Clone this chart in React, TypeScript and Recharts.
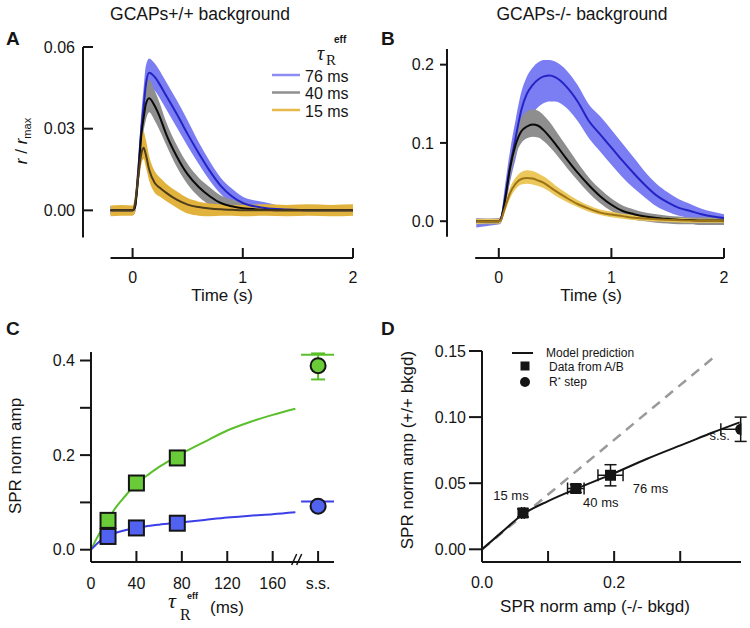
import React from 'react';
import {
  ComposedChart, Area, Line, Scatter, XAxis, YAxis, ReferenceLine, ErrorBar, Legend,
} from 'recharts';

const SANS = '"Liberation Sans", Arial, Helvetica, sans-serif';
const SERIF = '"Liberation Serif", "Times New Roman", serif';
const INK = '#151515';

// ---------- A: GCAPs+/+ background, r/rmax vs time (s)
const T_A = [-0.2, -0.1, 0, 0.02, 0.05, 0.08, 0.1, 0.12, 0.15, 0.2, 0.25, 0.3, 0.4, 0.5, 0.6, 0.7, 0.8, 0.9, 1.0, 1.2, 1.4, 1.6, 1.8, 2.0];
const A_76 = [0, 0, 0, 0.001, 0.014, 0.03, 0.038, 0.046, 0.0505, 0.049, 0.046, 0.0425, 0.0355, 0.028, 0.021, 0.0145, 0.009, 0.0052, 0.0027, 0.0009, 0.0003, 0, 0, 0];
const A_76_LO = [-0.0015, -0.0015, -0.0015, -0.001, 0.01, 0.025, 0.033, 0.041, 0.045, 0.044, 0.041, 0.0375, 0.0305, 0.0235, 0.017, 0.011, 0.006, 0.0025, 0.0005, -0.001, -0.0015, -0.0015, -0.0015, -0.0015];
const A_76_HI = [0.0015, 0.0015, 0.0015, 0.003, 0.018, 0.036, 0.045, 0.053, 0.0558, 0.054, 0.051, 0.0475, 0.0405, 0.033, 0.025, 0.018, 0.012, 0.008, 0.005, 0.003, 0.0015, 0.0015, 0.0015, 0.0015];
const A_40 = [0, 0, 0, 0.001, 0.012, 0.028, 0.034, 0.039, 0.0412, 0.0384, 0.034, 0.0285, 0.0199, 0.0132, 0.0086, 0.0052, 0.0027, 0.0015, 0.0008, 0.0002, 0, 0, 0, 0];
const A_40_LO = [-0.0015, -0.0015, -0.0015, -0.001, 0.008, 0.022, 0.029, 0.033, 0.036, 0.033, 0.029, 0.0245, 0.016, 0.0095, 0.005, 0.002, 0, -0.001, -0.0015, -0.0015, -0.0015, -0.0015, -0.0015, -0.0015];
const A_40_HI = [0.0015, 0.0015, 0.0015, 0.003, 0.016, 0.034, 0.041, 0.0465, 0.048, 0.044, 0.039, 0.033, 0.024, 0.017, 0.012, 0.0085, 0.0055, 0.004, 0.003, 0.0015, 0.0015, 0.0015, 0.0015, 0.0015];
const A_15 = [0, 0, 0, 0.002, 0.012, 0.021, 0.023, 0.0205, 0.015, 0.0101, 0.0082, 0.0066, 0.0039, 0.0021, 0.0012, 0.0007, 0.0004, 0.0002, 0, 0, 0, 0, 0, 0];
const A_15_LO = [-0.0022, -0.002, -0.002, -0.001, 0.008, 0.017, 0.019, 0.016, 0.011, 0.0065, 0.005, 0.0035, 0.001, -0.0012, -0.002, -0.0022, -0.002, -0.002, -0.0022, -0.002, -0.0022, -0.002, -0.0022, -0.002];
const A_15_HI = [0.0018, 0.002, 0.0018, 0.005, 0.018, 0.027, 0.029, 0.026, 0.02, 0.0145, 0.012, 0.01, 0.007, 0.0045, 0.0032, 0.0025, 0.0022, 0.002, 0.002, 0.0022, 0.002, 0.0022, 0.002, 0.0022];

// ---------- B: GCAPs-/- background
const T_B = [-0.2, -0.1, 0, 0.02, 0.05, 0.1, 0.15, 0.2, 0.25, 0.3, 0.35, 0.4, 0.45, 0.5, 0.6, 0.7, 0.8, 0.9, 1.0, 1.1, 1.2, 1.3, 1.4, 1.5, 1.6, 1.7, 1.8, 1.9, 2.0];
const B_76 = [0, 0, 0, 0.003, 0.025, 0.07, 0.107, 0.142, 0.163, 0.174, 0.181, 0.185, 0.186, 0.184, 0.172, 0.153, 0.128, 0.111, 0.094, 0.077, 0.061, 0.046, 0.033, 0.024, 0.017, 0.013, 0.009, 0.006, 0.004];
const B_76_LO = [-0.008, -0.006, -0.004, -0.002, 0.012, 0.05, 0.08, 0.11, 0.128, 0.138, 0.146, 0.151, 0.153, 0.153, 0.145, 0.128, 0.106, 0.089, 0.072, 0.056, 0.042, 0.03, 0.019, 0.012, 0.007, 0.004, 0.001, -0.001, -0.002];
const B_76_HI = [0.004, 0.003, 0.004, 0.008, 0.04, 0.09, 0.13, 0.165, 0.185, 0.196, 0.203, 0.206, 0.206, 0.204, 0.193, 0.174, 0.149, 0.134, 0.117, 0.099, 0.081, 0.063, 0.048, 0.037, 0.028, 0.022, 0.016, 0.012, 0.009];
const B_40 = [0, 0, 0, 0.003, 0.022, 0.068, 0.098, 0.115, 0.121, 0.1235, 0.122, 0.116, 0.108, 0.099, 0.08, 0.062, 0.046, 0.032, 0.021, 0.013, 0.009, 0.006, 0.004, 0.003, 0.002, 0.0015, 0.001, 0.001, 0.001];
const B_40_LO = [-0.004, -0.004, -0.004, -0.002, 0.014, 0.055, 0.085, 0.1, 0.106, 0.108, 0.107, 0.102, 0.095, 0.087, 0.069, 0.052, 0.036, 0.023, 0.013, 0.006, 0.002, 0, -0.002, -0.003, -0.004, -0.004, -0.005, -0.005, -0.005];
const B_40_HI = [0.003, 0.003, 0.003, 0.006, 0.03, 0.08, 0.112, 0.132, 0.14, 0.143, 0.141, 0.135, 0.127, 0.117, 0.096, 0.075, 0.056, 0.041, 0.029, 0.02, 0.015, 0.011, 0.009, 0.007, 0.006, 0.005, 0.005, 0.005, 0.005];
const B_15 = [0, 0, 0, 0.002, 0.015, 0.036, 0.048, 0.054, 0.0553, 0.0545, 0.052, 0.049, 0.044, 0.039, 0.03, 0.022, 0.016, 0.011, 0.0085, 0.0065, 0.0045, 0.0035, 0.0025, 0.0018, 0.0012, 0.0008, 0.0005, 0.0003, 0];
const B_15_LO = [-0.004, -0.003, -0.003, -0.001, 0.01, 0.029, 0.041, 0.047, 0.048, 0.047, 0.045, 0.042, 0.038, 0.033, 0.025, 0.018, 0.012, 0.008, 0.005, 0.003, 0.0015, 0.0005, -0.0005, -0.001, -0.0015, -0.002, -0.002, -0.002, -0.002];
const B_15_HI = [0.003, 0.003, 0.003, 0.005, 0.02, 0.043, 0.056, 0.063, 0.065, 0.064, 0.061, 0.057, 0.052, 0.046, 0.036, 0.027, 0.02, 0.015, 0.012, 0.0095, 0.0075, 0.006, 0.005, 0.0045, 0.004, 0.0035, 0.003, 0.003, 0.003];

const TAU_NAMES = ['76 ms', '40 ms', '15 ms'];

// ---------- C: SPR norm amp vs tau_R eff
const C_TAU = [15, 40, 76];
const C_GREEN = [0.062, 0.141, 0.194];
const C_GREEN_ERR = [0.004, 0.006, 0.012];
const C_BLUE = [0.028, 0.046, 0.056];
const C_BLUE_ERR = [0.003, 0.004, 0.004];
const C_MODEL_TAU = [0, 5, 10, 15, 20, 30, 40, 50, 60, 76, 100, 120, 140, 160, 180];
const C_MODEL_GREEN = [0, 0.024, 0.045, 0.063, 0.083, 0.113, 0.14, 0.158, 0.175, 0.198, 0.228, 0.252, 0.27, 0.285, 0.298];
const C_MODEL_BLUE = [0, 0.012, 0.022, 0.028, 0.034, 0.041, 0.046, 0.05, 0.053, 0.057, 0.063, 0.068, 0.072, 0.075, 0.079];
const C_SS = 200; // slot of the "s.s." column on the tau axis
const C_SS_GREEN = 0.389;
const C_SS_GREEN_ERR = [0.029, 0.026];
const C_SS_BLUE = 0.092;
const C_SS_MODEL_SPAN = [185, 214];
const C_SS_MODEL_GREEN = 0.412;
const C_SS_MODEL_BLUE = 0.102;
const C_X_TICKS = [0, 40, 80, 120, 160, 182, 200];
const C_X_LABELS = ['0', '40', '80', '120', '160', '', 's.s.'];
const C_BREAK = 182;
const C_Y_TICKS = [0, 0.1, 0.2, 0.3, 0.4];
const C_Y_LABELS = ['0.0', '', '0.2', '', '0.4'];

// ---------- D: +/+ vs -/- amplitudes
const D_NULL = [0.062, 0.142, 0.1945];
const D_NULL_ERR = [0.002, 0.0125, 0.019];
const D_WT = [0.0275, 0.046, 0.056];
const D_WT_ERR = [0.003, 0.003, 0.008];
const D_LABELS = ['15 ms', '40 ms', '76 ms'];
const D_SS_NULL = 0.3915;
const D_SS_NULL_ERR = [0.03, 0];
const D_SS_WT = 0.0908;
const D_SS_WT_ERR = 0.0092;
const D_MODEL_X = [0, 0.03, 0.062, 0.1, 0.143, 0.196, 0.25, 0.31, 0.35, 0.39];
const D_MODEL_Y = [0, 0.013, 0.0265, 0.0365, 0.0459, 0.0567, 0.0685, 0.0805, 0.0885, 0.096];
const D_DIAG_X = [0, 0.355];
const D_DIAG_Y = [0, 0.147];
const D_X_TICKS = [0, 0.1, 0.2, 0.3];
const D_X_LABELS = ['0.0', '', '0.2', ''];
const D_Y_TICKS = [0, 0.05, 0.1, 0.15];
const D_Y_LABELS = ['0.00', '0.05', '0.10', '0.15'];

// label nudges (px) for the D annotations, same order as D_LABELS then s.s.
const D_LABEL_SHIFT = [[-12, -18], [25, 14], [40, 13], [-21, 6]];

const COL = {
  band76: '#7b7df2', mean76: '#2424c4',
  band40: '#8e8e8e', mean40: '#0a0a0a',
  band15A: '#e2b33c', mean15A: '#4d3d1c',
  band15B: '#ebc75c', mean15B: '#9c7416',
  key76: '#8c8cf2', key40: '#8f8f8f', key15: '#e6b94a',
  green: '#6acb38', greenLine: '#5abf2a',
  blue: '#5262f0', blueLine: '#3c3ee8',
};

const xTick = (values: number[], labels: string[], len: number, gap: number, breakAt?: number) => (p: any) => {
  const v = p.payload.value;
  if (v === breakAt) {
    return (
      <g stroke={INK} strokeWidth={1.5}>
        <line x1={p.x - 6} y1={p.y + 3} x2={p.x - 1} y2={p.y - 8} />
        <line x1={p.x - 1} y1={p.y + 3} x2={p.x + 4} y2={p.y - 8} />
      </g>
    );
  }
  return (
    <g>
      <line x1={p.x} y1={p.y} x2={p.x} y2={p.y - len} stroke={INK} strokeWidth={2} />
      <text x={p.x} y={p.y + gap} textAnchor="middle" fontSize={16} fill={INK} fontFamily={SANS}>
        {labels[values.indexOf(v)] ?? ''}
      </text>
    </g>
  );
};

const yTick = (values: number[], labels: string[], len: number, gap: number, inward: boolean) => (p: any) => {
  const end = inward ? p.x + len : p.x - len;
  const tx = inward ? p.x - gap : p.x - len - gap;
  return (
    <g>
      <line x1={p.x} y1={p.y} x2={end} y2={p.y} stroke={INK} strokeWidth={2} />
      <text x={tx} y={p.y} dy="0.36em" textAnchor="end" fontSize={16} fill={INK} fontFamily={SANS}>
        {labels[values.indexOf(p.payload.value)] ?? ''}
      </text>
    </g>
  );
};

const traceRows = (t: number[], s: number[][]) =>
  t.map((v, i) => ({
    t: v,
    band76: [s[1][i], s[2][i]], m76: s[0][i],
    band40: [s[4][i], s[5][i]], m40: s[3][i],
    band15: [s[7][i], s[8][i]], m15: s[6][i],
  }));

const rowsA = traceRows(T_A, [A_76, A_76_LO, A_76_HI, A_40, A_40_LO, A_40_HI, A_15, A_15_LO, A_15_HI]);
const rowsB = traceRows(T_B, [B_76, B_76_LO, B_76_HI, B_40, B_40_LO, B_40_HI, B_15, B_15_LO, B_15_HI]);

const TauLegend = () => (
  <svg width={105} height={90} fontFamily={SANS}>
    <text x={52} y={30} fontFamily={SERIF} fontStyle="italic" fontSize={20} fill={INK}>τ</text>
    <text x={61} y={35} fontFamily={SERIF} fontSize={15} fill={INK}>R</text>
    <text x={69} y={13} fontSize={10} fontWeight="bold" fill={INK}>eff</text>
    {[COL.key76, COL.key40, COL.key15].map((c, i) => (
      <g key={TAU_NAMES[i]}>
        <line x1={7} x2={35} y1={45 + i * 17.5} y2={45 + i * 17.5} stroke={c} strokeWidth={2.5} />
        <text x={40} y={46 + i * 17.5} dy="0.36em" fontSize={16} fill={INK}>{TAU_NAMES[i]}</text>
      </g>
    ))}
  </svg>
);

function TracePanel(props: any) {
  const { rows, left, xMin, xStart, yMin, yAxisLow, yMax, yTicks, yLabels, inward, tickLen, tickGap, margin, yWidth, band15, mean15, legend } = props;
  return (
    <div style={{ position: 'absolute', left, top: 0 }}>
      <ComposedChart width={375} height={310} data={rows} margin={margin}>
        <XAxis type="number" dataKey="t" domain={[xMin, 2]} ticks={[0, 1, 2]} interval={0} allowDataOverflow
          height={52} axisLine={false} tickLine={false} tickSize={0} tickMargin={0}
          tick={xTick([0, 1, 2], ['0', '1', '2'], 10, 25)} />
        <YAxis type="number" domain={[yMin, yMax]} ticks={yTicks} interval={0} allowDataOverflow
          width={yWidth} axisLine={false} tickLine={false} tickSize={0} tickMargin={0}
          tick={yTick(yTicks, yLabels, tickLen, tickGap, inward)} />
        <Area dataKey="band76" type="monotone" stroke="none" fill={COL.band76} fillOpacity={1} isAnimationActive={false} />
        <Area dataKey="band40" type="monotone" stroke="none" fill={COL.band40} fillOpacity={1} isAnimationActive={false} />
        <Area dataKey="band15" type="monotone" stroke="none" fill={band15} fillOpacity={1} isAnimationActive={false} />
        <Line dataKey="m76" type="monotone" stroke={COL.mean76} strokeWidth={2} dot={false} isAnimationActive={false} />
        <Line dataKey="m40" type="monotone" stroke={COL.mean40} strokeWidth={2} dot={false} isAnimationActive={false} />
        <Line dataKey="m15" type="monotone" stroke={mean15} strokeWidth={2} dot={false} isAnimationActive={false} />
        <ReferenceLine segment={[{ x: xMin, y: yAxisLow }, { x: xMin, y: yMax }]} stroke={INK} strokeWidth={2} ifOverflow="visible" />
        <ReferenceLine segment={[{ x: xStart, y: yMin }, { x: 2, y: yMin }]} stroke={INK} strokeWidth={2} ifOverflow="visible" />
        {legend && (
          <Legend layout="vertical" align="center" verticalAlign="middle" content={() => <TauLegend />}
            wrapperStyle={{ left: 265, top: 30, width: 105, height: 90 }} />
        )}
      </ComposedChart>
    </div>
  );
}

const cPts = (ys: number[], errs: number[]) => C_TAU.map((x, i) => ({ x, y: ys[i], err: errs[i] }));
const cModel = (ys: number[]) => C_MODEL_TAU.map((x, i) => ({ x, y: ys[i] }));
const cSsModel = (y: number) => C_SS_MODEL_SPAN.map((x) => ({ x, y }));

const square = (fill: string, size: number) => (p: any) => (
  <rect x={p.cx - size / 2} y={p.cy - size / 2} width={size} height={size} fill={fill} stroke={INK} strokeWidth={2} />
);
const circle = (fill: string, r: number) => (p: any) => (
  <circle cx={p.cx} cy={p.cy} r={r} fill={fill} stroke={INK} strokeWidth={2} />
);

function PanelC() {
  const axis = { stroke: INK, strokeWidth: 2 };
  return (
    <div style={{ position: 'absolute', left: 0, top: 310 }}>
      <ComposedChart width={375} height={318} margin={{ top: 42, right: 41, bottom: 0, left: 0 }}>
        <XAxis type="number" dataKey="x" domain={[0, 214]} ticks={C_X_TICKS} interval={0} allowDataOverflow
          height={66} axisLine={axis} tickLine={false} tickSize={0} tickMargin={0}
          tick={xTick(C_X_TICKS, C_X_LABELS, 11, 27, C_BREAK)} />
        <YAxis type="number" dataKey="y" domain={[-0.026, 0.418]} ticks={C_Y_TICKS} interval={0} allowDataOverflow
          width={91} axisLine={axis} tickLine={false} tickSize={0} tickMargin={0}
          tick={yTick(C_Y_TICKS, C_Y_LABELS, 11, 5, false)} />
        <Line data={cModel(C_MODEL_GREEN)} dataKey="y" type="monotone" stroke={COL.greenLine} strokeWidth={2} dot={false} isAnimationActive={false} />
        <Line data={cModel(C_MODEL_BLUE)} dataKey="y" type="monotone" stroke={COL.blueLine} strokeWidth={2} dot={false} isAnimationActive={false} />
        <Line data={cSsModel(C_SS_MODEL_GREEN)} dataKey="y" stroke={COL.greenLine} strokeWidth={2} dot={false} isAnimationActive={false} />
        <Line data={cSsModel(C_SS_MODEL_BLUE)} dataKey="y" stroke={COL.blueLine} strokeWidth={2} dot={false} isAnimationActive={false} />
        <Scatter data={cPts(C_GREEN, C_GREEN_ERR)} shape={square(COL.green, 15)} isAnimationActive={false}>
          <ErrorBar dataKey="err" direction="y" width={7} stroke={COL.greenLine} strokeWidth={2} isAnimationActive={false} />
        </Scatter>
        <Scatter data={cPts(C_BLUE, C_BLUE_ERR)} shape={square(COL.blue, 15)} isAnimationActive={false}>
          <ErrorBar dataKey="err" direction="y" width={7} stroke={COL.blueLine} strokeWidth={2} isAnimationActive={false} />
        </Scatter>
        <Scatter data={[{ x: C_SS, y: C_SS_GREEN, err: C_SS_GREEN_ERR }]} shape={circle(COL.green, 7.5)} isAnimationActive={false}>
          <ErrorBar dataKey="err" direction="y" width={7} stroke={COL.greenLine} strokeWidth={2} isAnimationActive={false} />
        </Scatter>
        <Scatter data={[{ x: C_SS, y: C_SS_BLUE }]} shape={circle(COL.blue, 7.5)} isAnimationActive={false} />
      </ComposedChart>
    </div>
  );
}

const dLabelled = (kind: 'sq' | 'dot') => (p: any) => {
  const i = kind === 'dot' ? 3 : D_LABELS.indexOf(p.payload.label);
  const [dx, dy] = D_LABEL_SHIFT[i];
  return (
    <g>
      {kind === 'sq'
        ? <rect x={p.cx - 5.5} y={p.cy - 5.5} width={11} height={11} fill={INK} />
        : <circle cx={p.cx} cy={p.cy} r={5.5} fill={INK} />}
      <text x={p.cx + dx} y={p.cy + dy} dy="0.36em" textAnchor="middle" fontSize={13} fill={INK} fontFamily={SANS}>
        {p.payload.label}
      </text>
    </g>
  );
};

const DLegend = () => (
  <svg width={150} height={50} fontFamily={SANS} fill={INK}>
    <line x1={7} x2={28} y1={10} y2={10} stroke={INK} strokeWidth={2} />
    <text x={41} y={14} fontSize={12}>Model prediction</text>
    <rect x={15.5} y={18.5} width={9} height={9} fill={INK} />
    <text x={44} y={28} fontSize={12}>Data from A/B</text>
    <circle cx={20} cy={39} r={5} fill={INK} />
    <text x={44} y={43} fontSize={12}>R<tspan fontSize={8} dy={-4}>*</tspan><tspan dy={4}> step</tspan></text>
  </svg>
);

function PanelD() {
  const axis = { stroke: INK, strokeWidth: 2 };
  const pts = D_NULL.map((x, i) => ({ x, y: D_WT[i], ex: D_NULL_ERR[i], ey: D_WT_ERR[i], label: D_LABELS[i] }));
  const ss = [{ x: D_SS_NULL, y: D_SS_WT, ex: D_SS_NULL_ERR, ey: D_SS_WT_ERR, label: 's.s.' }];
  const model = D_MODEL_X.map((x, i) => ({ x, y: D_MODEL_Y[i] }));
  const diag = D_DIAG_X.map((x, i) => ({ x, y: D_DIAG_Y[i] }));
  return (
    <div style={{ position: 'absolute', left: 375, top: 310 }}>
      <ComposedChart width={375} height={318} margin={{ top: 41, right: 9, bottom: 0, left: 0 }}>
        <XAxis type="number" dataKey="x" domain={[0, 0.392]} ticks={D_X_TICKS} interval={0} allowDataOverflow
          height={66} axisLine={axis} tickLine={false} tickSize={0} tickMargin={0}
          tick={xTick(D_X_TICKS, D_X_LABELS, 11, 26)} />
        <YAxis type="number" dataKey="y" domain={[-0.0096, 0.15]} ticks={D_Y_TICKS} interval={0} allowDataOverflow
          width={107} axisLine={axis} tickLine={false} tickSize={0} tickMargin={0}
          tick={yTick(D_Y_TICKS, D_Y_LABELS, 13, 3, false)} />
        <Line data={diag} dataKey="y" stroke="#9a9a9a" strokeWidth={2.5} strokeDasharray="10 7" dot={false} isAnimationActive={false} />
        <Line data={model} dataKey="y" type="monotone" stroke={INK} strokeWidth={2} dot={false} isAnimationActive={false} />
        <Scatter data={pts} shape={dLabelled('sq')} isAnimationActive={false}>
          <ErrorBar dataKey="ex" direction="x" width={6} stroke={INK} strokeWidth={1.5} isAnimationActive={false} />
          <ErrorBar dataKey="ey" direction="y" width={6} stroke={INK} strokeWidth={1.5} isAnimationActive={false} />
        </Scatter>
        <Scatter data={ss} shape={dLabelled('dot')} isAnimationActive={false}>
          <ErrorBar dataKey="ex" direction="x" width={6} stroke={INK} strokeWidth={1.5} isAnimationActive={false} />
          <ErrorBar dataKey="ey" direction="y" width={6} stroke={INK} strokeWidth={1.5} isAnimationActive={false} />
        </Scatter>
        <Legend layout="vertical" align="center" verticalAlign="middle" content={() => <DLegend />}
          wrapperStyle={{ left: 130, top: 33, width: 150, height: 50 }} />
      </ComposedChart>
    </div>
  );
}

export default function App() {
  return (
    <div style={{ position: 'absolute', left: 0, top: 0, width: 750, height: 628, background: '#fff', fontFamily: SANS, overflow: 'hidden' }}>
      <TracePanel rows={rowsA} left={0} xMin={-0.45} xStart={-0.2} yMin={-0.0175} yAxisLow={-0.01} yMax={0.06}
        yTicks={[0, 0.03, 0.06]} yLabels={['0.00', '0.03', '0.06']} inward tickLen={10} tickGap={8}
        margin={{ top: 47, right: 22, bottom: 0, left: 0 }} yWidth={83}
        band15={COL.band15A} mean15={COL.mean15A} legend />
      <TracePanel rows={rowsB} left={375} xMin={-0.46} xStart={-0.21} yMin={-0.047} yAxisLow={-0.02} yMax={0.22}
        yTicks={[0, 0.1, 0.2]} yLabels={['0.0', '0.1', '0.2']} inward={false} tickLen={7} tickGap={6}
        margin={{ top: 49, right: 26, bottom: 0, left: 0 }} yWidth={72}
        band15={COL.band15B} mean15={COL.mean15B} legend={false} />
      <PanelC />
      <PanelD />
      <svg width={750} height={628} style={{ position: 'absolute', left: 0, top: 0, pointerEvents: 'none' }} fontFamily={SANS} fill={INK}>
        <text x={200} y={20} textAnchor="middle" fontSize={17.5}>GCAPs+/+ background</text>
        <text x={582} y={20} textAnchor="middle" fontSize={17.5}>GCAPs-/- background</text>
        <text x={6} y={45} fontSize={19} fontWeight="bold">A</text>
        <text x={381} y={45} fontSize={19} fontWeight="bold">B</text>
        <text x={6} y={335} fontSize={19} fontWeight="bold">C</text>
        <text x={381} y={335} fontSize={19} fontWeight="bold">D</text>
        <text transform="rotate(-90 27 141)" x={27} y={141} textAnchor="middle" fontSize={17}>
          <tspan fontStyle="italic">r</tspan> / <tspan fontStyle="italic">r</tspan><tspan fontSize={11} dy={4}>max</tspan>
        </text>
        <text x={222} y={301} textAnchor="middle" fontSize={17}>Time (s)</text>
        <text x={591} y={301} textAnchor="middle" fontSize={17}>Time (s)</text>
        <text transform="rotate(-90 21 456)" x={21} y={456} textAnchor="middle" fontSize={17}>SPR norm amp</text>
        <text x={168} y={608} fontFamily={SERIF} fontStyle="italic" fontSize={22}>τ</text>
        <text x={180} y={620} fontFamily={SERIF} fontSize={16}>R</text>
        <text x={187} y={599} fontSize={9} fontWeight="bold">eff</text>
        <text x={210} y={613} fontSize={17}>(ms)</text>
        <text transform="rotate(-90 413 450)" x={413} y={450} textAnchor="middle" fontSize={17}>SPR norm amp (+/+ bkgd)</text>
        <text x={595} y={612} textAnchor="middle" fontSize={17}>SPR norm amp (-/- bkgd)</text>
      </svg>
    </div>
  );
}
